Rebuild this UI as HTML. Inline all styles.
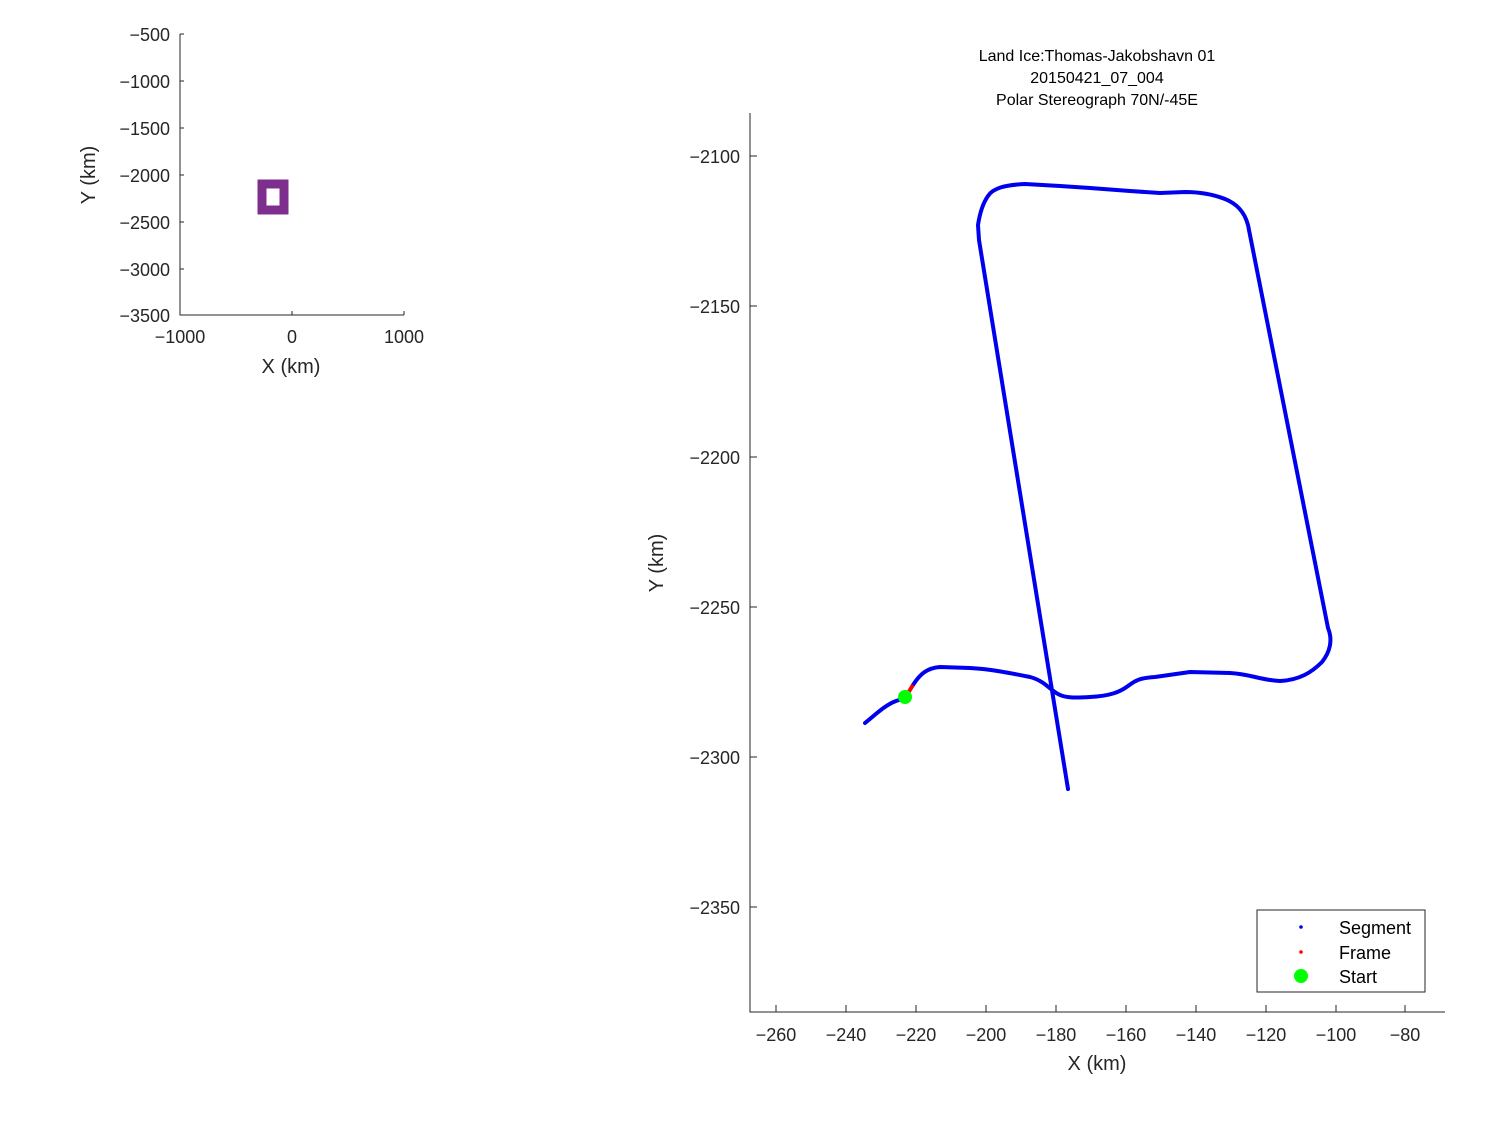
<!DOCTYPE html>
<html><head><style>
body{margin:0;background:#fff;}
svg{font-family:"Liberation Sans",sans-serif;}
</style></head><body>
<svg width="1500" height="1125" xmlns="http://www.w3.org/2000/svg">
<rect width="1500" height="1125" fill="#fff"/>
<!-- small axes -->
<g stroke="#262626" stroke-width="1" fill="none">
<path d="M180,34 V315 H404"/>
<path d="M180,34h4M180,81h4M180,128h4M180,175h4M180,222h4M180,269h4M180,315h4"/>
<path d="M180,315v-4M292,315v-4M404,315v-4"/>
</g>
<g font-size="18" fill="#262626" text-anchor="end">
<text x="170" y="41">−500</text><text x="170" y="88">−1000</text><text x="170" y="135">−1500</text>
<text x="170" y="182">−2000</text><text x="170" y="229">−2500</text><text x="170" y="276">−3000</text><text x="170" y="322">−3500</text>
</g>
<g font-size="18" fill="#262626" text-anchor="middle">
<text x="180" y="343">−1000</text><text x="292" y="343">0</text><text x="404" y="343">1000</text>
<text x="291" y="373" font-size="20">X (km)</text>
</g>
<text transform="translate(95,175) rotate(-90)" font-size="20" fill="#262626" text-anchor="middle">Y (km)</text>
<rect x="262" y="184" width="22" height="26" fill="none" stroke="#7e2f8e" stroke-width="9"/>
<!-- main axes -->
<g stroke="#262626" stroke-width="1" fill="none">
<path d="M750,113 V1012 H1445"/>
<path d="M750,156h7M750,306h7M750,457h7M750,607h7M750,757h7M750,907h7"/>
<path d="M776,1012v-7M846,1012v-7M916,1012v-7M986,1012v-7M1056,1012v-7M1126,1012v-7M1196,1012v-7M1266,1012v-7M1336,1012v-7M1405,1012v-7"/>
</g>
<g font-size="18" fill="#262626" text-anchor="end">
<text x="740" y="163">−2100</text><text x="740" y="313">−2150</text><text x="740" y="464">−2200</text>
<text x="740" y="614">−2250</text><text x="740" y="764">−2300</text><text x="740" y="914">−2350</text>
</g>
<g font-size="18" fill="#262626" text-anchor="middle">
<text x="776" y="1041">−260</text><text x="846" y="1041">−240</text><text x="916" y="1041">−220</text>
<text x="986" y="1041">−200</text><text x="1056" y="1041">−180</text><text x="1126" y="1041">−160</text>
<text x="1196" y="1041">−140</text><text x="1266" y="1041">−120</text><text x="1336" y="1041">−100</text><text x="1405" y="1041">−80</text>
<text x="1097" y="1070" font-size="20">X (km)</text>
</g>
<text transform="translate(663,563) rotate(-90)" font-size="20" fill="#262626" text-anchor="middle">Y (km)</text>
<g font-size="16" fill="#000" text-anchor="middle">
<text x="1097" y="61">Land Ice:Thomas-Jakobshavn 01</text>
<text x="1097" y="83">20150421_07_004</text>
<text x="1097" y="105">Polar Stereograph 70N/-45E</text>
</g>
<g fill="none" stroke="#0000ee" stroke-width="4" stroke-linejoin="round" stroke-linecap="round">
<path d="M865,723 C875,715 885,705 896,701 L905,698"/>
<path d="M913,685 C920,674 927,668 940,667 L970,668 C990,669 1010,673 1030,677 C1045,681 1050,690 1058,694 C1065,698 1075,698 1090,697 C1110,696 1120,692 1128,686 C1136,680 1140,678 1155,677 L1190,672 L1230,673 C1250,674 1260,680 1280,681 C1300,680 1312,672 1322,662 C1330,652 1333,640 1328,628 L1248,225 C1244,210 1235,203 1225,199 C1212,194 1200,192 1185,192 L1160,193 L1130,191 L1090,188 L1060,186 L1025,184 C1005,185 993,188 988,196 C983,203 980,212 978,225 L979,240 L1068,789"/>
</g>
<path d="M905,698 L913,685" stroke="#ff0000" stroke-width="4" fill="none"/>
<circle cx="905" cy="697" r="7" fill="#00ff00"/>
<!-- legend -->
<rect x="1257" y="910" width="168" height="82" fill="#fff" stroke="#262626" stroke-width="1"/>
<circle cx="1301" cy="927" r="1.8" fill="#0000ee"/>
<circle cx="1301" cy="952" r="1.8" fill="#ff0000"/>
<circle cx="1301" cy="976" r="7" fill="#00ff00"/>
<g font-size="18" fill="#000">
<text x="1339" y="934">Segment</text><text x="1339" y="959">Frame</text><text x="1339" y="983">Start</text>
</g>
</svg>
</body></html>
